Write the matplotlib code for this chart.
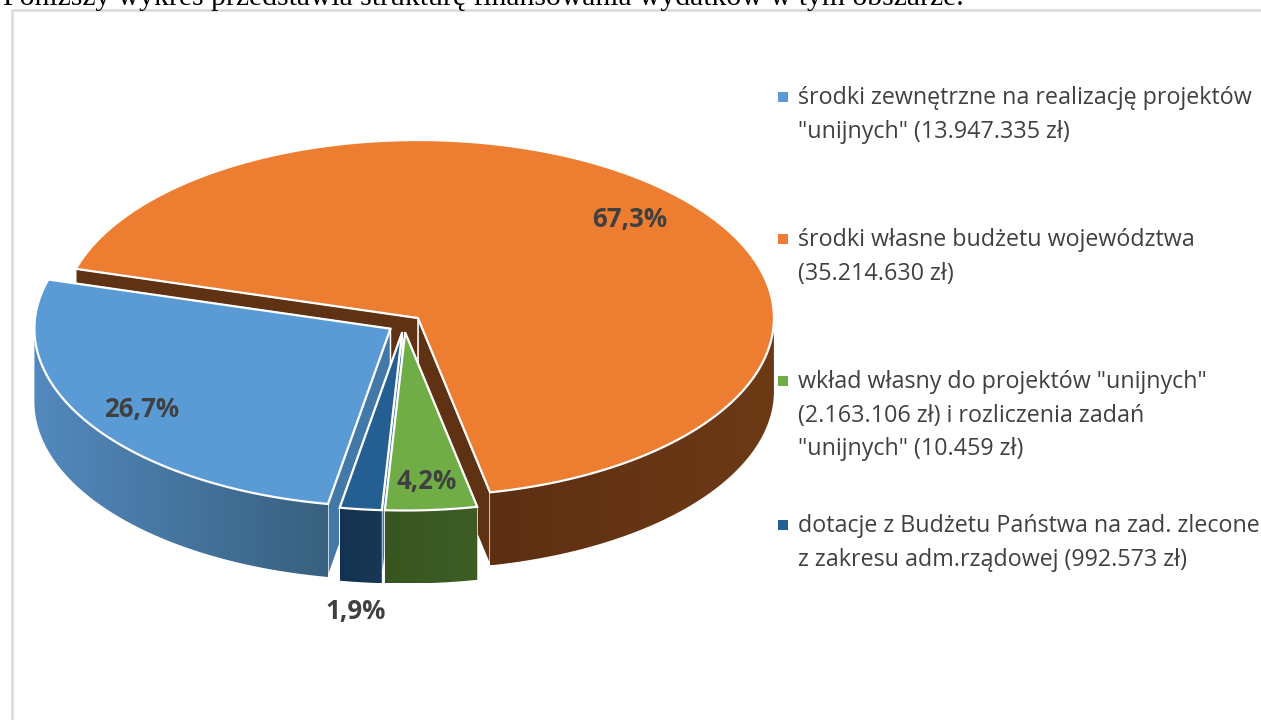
import numpy as np
import matplotlib
matplotlib.use("Agg")
import matplotlib.pyplot as plt
from matplotlib.patches import Polygon, Rectangle
from matplotlib.colors import to_rgb

# Kwoty z legendy (zl)
names = ["zewnetrzne", "wlasne", "wklad", "dotacje"]
amounts = [13947335, 35214630, 2163106 + 10459, 992573]
legend_lines = [
    ["środki zewnętrzne na realizację projektów", "\"unijnych\" (13.947.335 zł)"],
    ["środki własne budżetu województwa", "(35.214.630 zł)"],
    ["wkład własny do projektów \"unijnych\"", "(2.163.106 zł) i rozliczenia zadań", "\"unijnych\" (10.459 zł)"],
    ["dotacje z Budżetu Państwa na zad. zlecone", "z zakresu adm.rządowej (992.573 zł)"],
]
top_text = "Poniższy wykres przedstawia strukturę finansowania wydatków w tym obszarze."

# Wyglad
top_colors = ["#5B9BD5", "#ED7D31", "#70AD47", "#255E91"]
face_colors = ["#4279A9", "#5F3214", "#3B5A25", "#3F76A8"]
wall_left = ["#5389BE", "#5C2F12", "#38551F", "#143250"]
wall_right = ["#38607F", "#6E3A16", "#3E5D25", "#173858"]
explode = [16, 19, 16, 16]
label_pos = [(142, 410), (630, 220), (427, 482), (356, 611)]
legend_y = [104, 246, 388, 532]
cx, cy = 404, 324.5
rx, ry = 356, 178
depth = 73
start = 259.9
txt = "#404040"

plt.rcParams["font.family"] = ["Open Sans", "DejaVu Sans"]
fig = plt.figure(figsize=(12.61, 7.2), dpi=100)
ax = fig.add_axes([0, 0, 1, 1])
ax.axis("off")

# ramka i tekst nad wykresem
ax.add_patch(Rectangle((12, 10), 1300, 800, fc="white", ec="#D9D9D9", lw=1.8, zorder=0))
ax.text(3, 5, top_text, family="Liberation Serif", fontsize=21.3, color="black", va="baseline", ha="left")

z = 1


def pt(ox, oy, a, r=1.0):
    a = np.radians(a)
    return ox + rx * r * np.cos(a), oy - ry * r * np.sin(a)


def draw_slice(i, a0, a1):
    global z
    mid = np.radians((a0 + a1) / 2)
    ox = cx + explode[i] * np.cos(mid)
    oy = cy - explode[i] * np.sin(mid) * ry / rx
    # sciany przekroju
    for a in (a1, a0):
        x, y = pt(ox, oy, a)
        ax.add_patch(Polygon([(ox, oy), (x, y), (x, y + depth), (ox, oy + depth)],
                             fc=face_colors[i], ec="white", lw=1.0, joinstyle="round", zorder=z))
        z += 1
    # zewnetrzna sciana z gradientem (tylko dolna polowka elipsy)
    angles = np.linspace(a0, a1, 200)
    angles = angles[np.sin(np.radians(angles)) <= 0.001]
    if len(angles) > 1:
        xs, ys = pt(ox, oy, angles)
        poly = Polygon(np.vstack([np.column_stack([xs, ys]), np.column_stack([xs, ys + depth])[::-1]]),
                       fc="none", ec="none", transform=ax.transData)
        ax.add_patch(poly)
        c0, c1 = np.array(to_rgb(wall_left[i])), np.array(to_rgb(wall_right[i]))
        grad = np.linspace(0, 1, 256)[None, :, None] * (c1 - c0) + c0
        im = ax.imshow(grad, extent=[xs.min(), xs.max(), ys.max() + depth, ys.min()],
                       aspect="auto", zorder=z, interpolation="bilinear")
        im.set_clip_path(poly)
        z += 1
    # wierzch
    xs, ys = pt(ox, oy, np.linspace(a0, a1, 200))
    ax.add_patch(Polygon(np.vstack([[ox, oy], np.column_stack([xs, ys])]),
                         fc=top_colors[i], ec="white", lw=1.6, joinstyle="miter", zorder=z))
    z += 1


total = sum(amounts)
sweeps = [v / total * 360 for v in amounts]
edges = start - np.concatenate([[0], np.cumsum(sweeps)])
# kolejnosc malowania: od tylu do przodu
for i in [1, 0, 3, 2]:
    draw_slice(i, edges[i], edges[i + 1])

for i, v in enumerate(amounts):
    label = f"{v / total * 100:.1f}%".replace(".", ",")
    ax.text(label_pos[i][0], label_pos[i][1], label, fontsize=18.6, fontweight="bold", color=txt,
            ha="center", va="center", zorder=500)

# legenda
for i, lines in enumerate(legend_lines):
    ax.add_patch(Rectangle((778, legend_y[i] - 12.5), 10, 10, fc=top_colors[i], ec="none"))
    for j, line in enumerate(lines):
        ax.text(798, legend_y[i] + j * 33.6, line, fontsize=16.75, color=txt, ha="left", va="baseline")

ax.set_xlim(0, 1261)
ax.set_ylim(720, 0)
fig.savefig("out.png", dpi=100)
